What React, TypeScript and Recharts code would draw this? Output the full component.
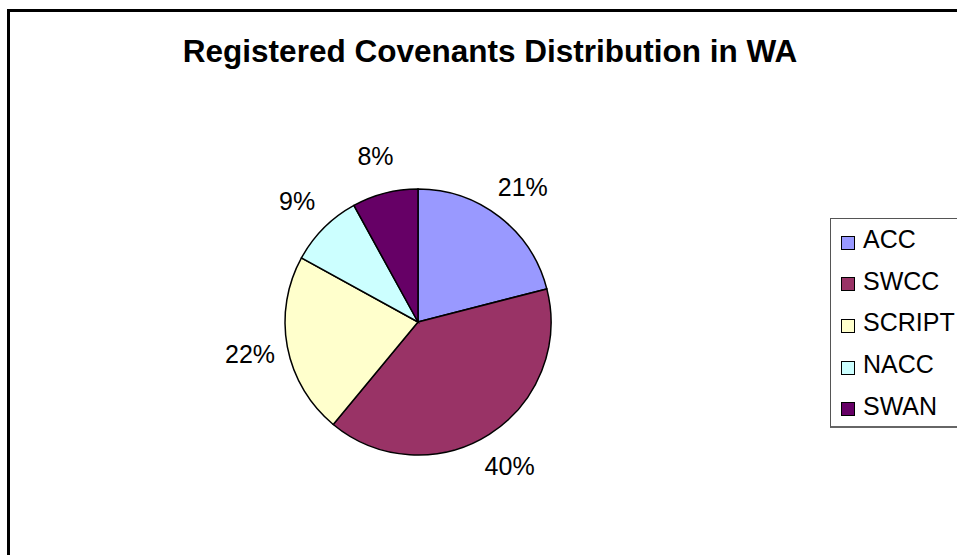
import React from "react";
import { PieChart, Pie, Cell, Legend } from "recharts";

const categories = ["ACC", "SWCC", "SCRIPT", "NACC", "SWAN"];
const shares = [21, 40, 22, 9, 8];
const COLORS = ["#9999FF", "#993366", "#FFFFCC", "#CCFFFF", "#660066"];

const data = categories.map((name, i) => ({ name, value: shares[i] }));

const FONT = "'Liberation Sans', Arial, sans-serif";
const RADIAN = Math.PI / 180;

// percentage labels sit outside the pie along the slice's mid angle
const renderLabel = (props: any) => {
    const { cx, cy, midAngle, outerRadius, value } = props;
    const r = outerRadius + 38;
    const x = cx + r * Math.cos(-midAngle * RADIAN);
    const y = cy + r * Math.sin(-midAngle * RADIAN);
    return (
        <text
            x={x}
            y={y}
            fill="#000"
            textAnchor="middle"
            dominantBaseline="central"
            fontFamily={FONT}
            fontSize={25}
        >
            {`${value}%`}
        </text>
    );
};

const renderLegend = () => (
    <div
        style={{
            border: "1px solid #555",
            borderBottom: "2px solid #666",
            background: "#fff",
            padding: "0 0 0 10px",
            width: 160,
            height: 210,
            boxSizing: "border-box",
            fontFamily: FONT,
            fontSize: 25,
            color: "#000",
        }}
    >
        {categories.map((name, i) => (
            <div key={name} style={{ display: "flex", alignItems: "center", height: 41.6 }}>
                <div
                    style={{
                        width: 12,
                        height: 12,
                        background: COLORS[i],
                        border: "1.5px solid #000",
                        marginRight: 8,
                        marginTop: 6,
                        flexShrink: 0,
                    }}
                />
                <span style={{ lineHeight: "25px" }}>{name}</span>
            </div>
        ))}
    </div>
);

export default function App() {
    return (
        <div
            style={{
                position: "fixed",
                left: 0,
                top: 0,
                width: 957,
                height: 555,
                overflow: "hidden",
                background: "#fff",
            }}
        >
            {/* chart frame, runs off the right and bottom of the picture */}
            <div
                style={{
                    position: "absolute",
                    left: 7,
                    top: 9,
                    width: 1000,
                    height: 600,
                    border: "3px solid #000",
                    boxSizing: "border-box",
                }}
            />
            <svg style={{ position: "absolute", left: 0, top: 0 }} width={957} height={555}>
                <text
                    x={490}
                    y={62}
                    textAnchor="middle"
                    fontFamily={FONT}
                    fontWeight="bold"
                    fontSize={31.5}
                    fill="#000"
                >
                    Registered Covenants Distribution in WA
                </text>
            </svg>
            <div style={{ position: "absolute", left: 0, top: 0 }}>
                <PieChart width={957} height={555} margin={{ top: 0, right: 0, bottom: 0, left: 0 }}>
                    <Pie
                        data={data}
                        dataKey="value"
                        nameKey="name"
                        cx={418}
                        cy={322}
                        outerRadius={133}
                        startAngle={90}
                        endAngle={-270}
                        stroke="#000"
                        strokeWidth={1.5}
                        label={renderLabel}
                        labelLine={false}
                        isAnimationActive={false}
                    >
                        {data.map((entry, index) => (
                            <Cell key={`cell-${index}`} fill={COLORS[index % COLORS.length]} />
                        ))}
                    </Pie>
                    <Legend
                        layout="vertical"
                        align="right"
                        verticalAlign="middle"
                        content={renderLegend}
                        wrapperStyle={{ left: 830, top: 218, right: "auto", bottom: "auto", width: 160 }}
                    />
                </PieChart>
            </div>
        </div>
    );
}
